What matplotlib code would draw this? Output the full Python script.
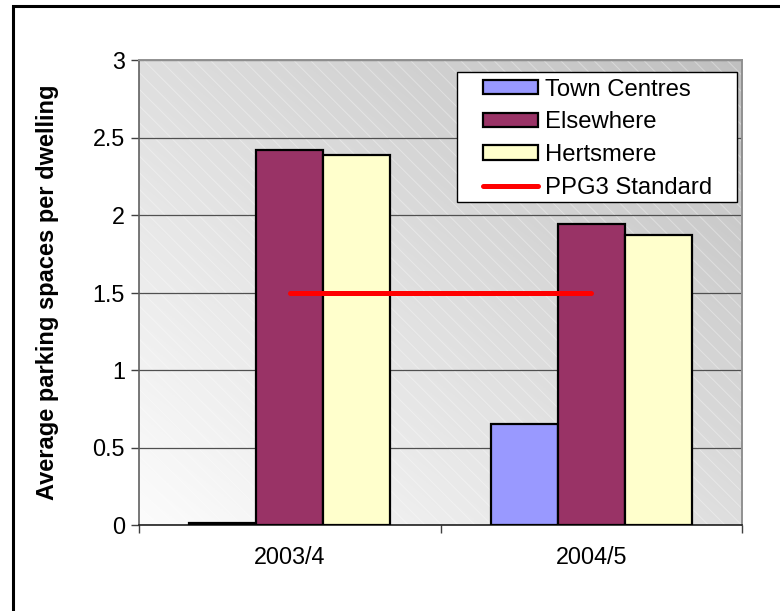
import numpy as np
import matplotlib
matplotlib.use("Agg")
import matplotlib.pyplot as plt
from matplotlib.patches import Rectangle

plt.rcParams['font.family'] = ['Liberation Sans', 'DejaVu Sans']
plt.rcParams['hatch.linewidth'] = 0.7

years = ["2003/4", "2004/5"]
series_names = ["Town Centres", "Elsewhere", "Hertsmere"]
town_centres = [0.01, 0.65]
elsewhere = [2.42, 1.94]
hertsmere = [2.39, 1.87]
ppg3_standard = [1.5, 1.5]
yticks = [0, 0.5, 1, 1.5, 2, 2.5, 3]
ytick_labels = ["0", "0.5", "1", "1.5", "2", "2.5", "3"]

colors = ["#9999FF", "#993366", "#FFFFCC"]

W, H = 780, 611
fig = plt.figure(figsize=(W / 100, H / 100), dpi=100)

# outer frame (document frame around the chart)
fig.patches.append(Rectangle((13 / W, -0.5), 2.0, 1.5 - 6 / H, transform=fig.transFigure,
                             fill=False, edgecolor="black", linewidth=2.2, zorder=0))

ax = fig.add_axes([139 / W, 1 - 525 / H, 603 / W, 465 / H])

# gradient background
nx, ny = 200, 200
gx, gy = np.meshgrid(np.linspace(0, 1, nx), np.linspace(0, 1, ny))
val = (252 - 60 * (0.5 * gx + 0.5 * gy)) / 255.0
img = np.dstack([val, val, val])
ax.imshow(img, extent=[0, 1, 0, 1], transform=ax.transAxes, origin="lower",
          aspect="auto", zorder=0)
ax.add_patch(Rectangle((0, 0), 1, 1, transform=ax.transAxes, facecolor="none",
                       edgecolor=(1, 1, 1, 0.35), hatch="\\\\", linewidth=0, zorder=0.5))

x = np.arange(len(years))
bw = 0.222
bar_handles = []
for i, (vals, c) in enumerate(zip([town_centres, elsewhere, hertsmere], colors)):
    b = ax.bar(x + (i - 1) * bw, vals, width=bw, color=c, edgecolor="black",
               linewidth=1.6, zorder=3, label=series_names[i])
    bar_handles.append(b)

line, = ax.plot(x, ppg3_standard, color="#FF0000", linewidth=3.6, solid_capstyle="round",
                zorder=4, label="PPG3 Standard")

ax.set_xlim(-0.5, 1.5)
ax.set_ylim(0, 3)
ax.set_yticks(yticks)
ax.set_yticklabels(ytick_labels)
ax.yaxis.grid(True, color="#505050", linewidth=0.9, zorder=1)
ax.set_axisbelow(True)

ax.set_xticks(x)
ax.set_xticklabels(years)
ax.set_xticks([-0.5, 0.5, 1.5], minor=True)
ax.tick_params(axis="x", which="major", length=0, pad=15, labelsize=16.8)
ax.tick_params(axis="x", which="minor", length=6, direction="out", color="#404040", width=1)
ax.tick_params(axis="y", length=6, direction="out", color="#404040", width=1, pad=4,
               labelsize=16.8)

for s in ["top", "right"]:
    ax.spines[s].set_color("#909090")
    ax.spines[s].set_linewidth(1.4)
ax.spines["left"].set_color("#606060")
ax.spines["bottom"].set_color("#202020")
ax.spines["left"].set_linewidth(1.2)
ax.spines["bottom"].set_linewidth(1.2)

ax.set_ylabel("Average parking spaces per dwelling", fontsize=17, fontweight="bold")
ax.yaxis.set_label_coords(-(139 - 59) / 603, 0.5)

# legend box
ax.add_patch(Rectangle((0.527, 0.695), 0.465, 0.279, transform=ax.transAxes,
                       facecolor="white", edgecolor="black", linewidth=1.0, zorder=5))
handles = bar_handles + [line]
labels = series_names + ["PPG3 Standard"]
leg = ax.legend(handles, labels, loc="upper left", bbox_to_anchor=(0.570, 0.960),
                frameon=False, borderpad=0, borderaxespad=0, fontsize=17.2,
                handlelength=2.3, handleheight=0.55, handletextpad=0.3,
                labelspacing=0.45)
leg.set_zorder(6)

fig.savefig("out.png", dpi=100)
